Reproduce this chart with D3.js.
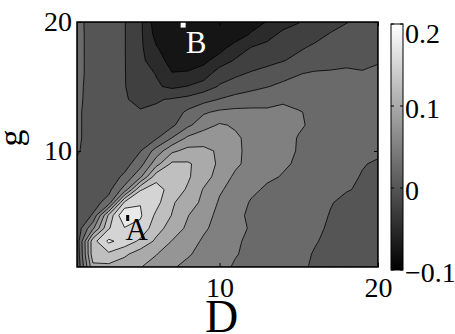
<!DOCTYPE html>
<html>
<head>
<meta charset="utf-8">
<script src="https://cdn.jsdelivr.net/npm/d3@7"></script>
<style>
  body { margin: 0; background: #fff; }
  svg { display: block; font-family: "Liberation Serif", "Times New Roman", serif; }
</style>
</head>
<body>
<script>

// grid positions of the surface
var dValues = [1, 2, 3, 4, 5, 6, 7, 8, 9, 10, 11, 12, 13, 14, 15, 16, 17, 18, 19, 20];
var gValues = [1, 2, 3, 4, 5, 6, 7, 8, 9, 10, 11, 12, 13, 14, 15, 16, 17, 18, 19, 20];

// surface values, one row per g (first row is g = 1), one column per D
var surface = [
  [0.002, 0.118, 0.118, 0.110, 0.101, 0.090, 0.077, 0.070, 0.063, 0.055, 0.048, 0.043, 0.038, 0.033, 0.028, 0.023, 0.019, 0.016, 0.013, 0.011],
  [0.005, 0.140, 0.145, 0.130, 0.112, 0.101, 0.087, 0.077, 0.069, 0.061, 0.051, 0.046, 0.041, 0.036, 0.029, 0.024, 0.021, 0.018, 0.015, 0.013],
  [0.008, 0.140, 0.180, 0.165, 0.145, 0.120, 0.099, 0.084, 0.072, 0.064, 0.052, 0.047, 0.043, 0.038, 0.033, 0.026, 0.022, 0.019, 0.017, 0.015],
  [0.008, 0.070, 0.148, 0.173, 0.168, 0.135, 0.114, 0.095, 0.078, 0.068, 0.056, 0.048, 0.043, 0.038, 0.034, 0.028, 0.023, 0.021, 0.018, 0.016],
  [0.008, 0.027, 0.130, 0.200, 0.178, 0.145, 0.124, 0.101, 0.082, 0.070, 0.054, 0.047, 0.042, 0.038, 0.034, 0.031, 0.024, 0.021, 0.019, 0.017],
  [0.008, 0.015, 0.035, 0.155, 0.174, 0.158, 0.128, 0.112, 0.094, 0.072, 0.060, 0.048, 0.044, 0.041, 0.037, 0.034, 0.026, 0.021, 0.019, 0.018],
  [0.010, 0.012, 0.018, 0.060, 0.148, 0.162, 0.138, 0.122, 0.098, 0.078, 0.066, 0.054, 0.047, 0.043, 0.040, 0.036, 0.032, 0.026, 0.023, 0.021],
  [0.015, 0.010, 0.012, 0.030, 0.070, 0.140, 0.142, 0.128, 0.110, 0.090, 0.070, 0.060, 0.053, 0.049, 0.045, 0.040, 0.035, 0.029, 0.024, 0.023],
  [0.020, 0.010, 0.008, 0.015, 0.040, 0.090, 0.130, 0.128, 0.115, 0.095, 0.080, 0.066, 0.057, 0.052, 0.048, 0.043, 0.038, 0.030, 0.026, 0.023],
  [0.028, 0.012, 0.006, 0.008, 0.024, 0.060, 0.095, 0.108, 0.105, 0.097, 0.080, 0.068, 0.060, 0.054, 0.049, 0.045, 0.040, 0.036, 0.031, 0.028],
  [0.030, 0.013, 0.006, 0.004, 0.008, 0.022, 0.051, 0.080, 0.090, 0.092, 0.079, 0.068, 0.061, 0.056, 0.049, 0.046, 0.042, 0.038, 0.034, 0.031],
  [0.030, 0.013, 0.006, 0.003, 0.004, 0.012, 0.020, 0.045, 0.065, 0.078, 0.072, 0.064, 0.058, 0.055, 0.052, 0.047, 0.043, 0.039, 0.036, 0.033],
  [0.030, 0.013, 0.006, 0.002, 0.001, 0.004, 0.012, 0.030, 0.047, 0.055, 0.057, 0.056, 0.054, 0.055, 0.051, 0.047, 0.045, 0.042, 0.039, 0.037],
  [0.032, 0.013, 0.006, 0.001, -0.003, -0.002, 0.002, 0.008, 0.016, 0.026, 0.033, 0.038, 0.042, 0.047, 0.045, 0.042, 0.040, 0.039, 0.037, 0.036],
  [0.033, 0.013, 0.007, 0.001, -0.012, -0.022, -0.030, -0.024, -0.012, 0.002, 0.012, 0.018, 0.024, 0.030, 0.032, 0.033, 0.034, 0.034, 0.034, 0.034],
  [0.035, 0.013, 0.008, 0.001, -0.015, -0.026, -0.049, -0.047, -0.040, -0.010, -0.005, 0.003, 0.010, 0.017, 0.024, 0.028, 0.028, 0.029, 0.026, 0.030],
  [0.035, 0.013, 0.008, 0.001, -0.018, -0.040, -0.058, -0.062, -0.055, -0.040, -0.022, -0.015, -0.008, -0.001, 0.006, 0.012, 0.017, 0.020, 0.022, 0.023],
  [0.035, 0.013, 0.008, 0.001, -0.020, -0.048, -0.064, -0.070, -0.068, -0.058, -0.040, -0.024, -0.016, -0.010, -0.003, 0.004, 0.010, 0.015, 0.019, 0.022],
  [0.035, 0.013, 0.008, 0.001, -0.020, -0.058, -0.068, -0.072, -0.072, -0.068, -0.062, -0.047, -0.035, -0.017, -0.014, -0.007, 0.002, 0.008, 0.012, 0.015],
  [0.035, 0.012, 0.008, 0.001, -0.020, -0.065, -0.065, -0.070, -0.072, -0.070, -0.066, -0.060, -0.049, -0.038, -0.026, -0.017, -0.009, -0.001, 0.004, 0.008]
];

// contour levels, the region under the first level gets the base colour
var baseLevel = -0.075;
var levels = [-0.05, -0.025, 0, 0.025, 0.05, 0.075, 0.1, 0.125, 0.15, 0.175];

// tick labels
var xTicks = [10, 20];
var yTicks = [10, 20];
var colorTicks = [-0.1, 0, 0.1, 0.2];
var colorDomain = [-0.1, 0.2];

// the two marked points
var markers = [
  {name: "A", D: 4.2, g: 4.8},
  {name: "B", D: 7.7, g: 19.8}
];

// drawing styles of the markers
var markerStyle = {
  A: {fill: "#000", w: 3, h: 6, dx: 9, dy: 22},
  B: {fill: "#fff", w: 5, h: 6, dx: 13, dy: 28}
};

var svgWidth = 455, svgHeight = 334;
var plot = {left: 77, right: 378, top: 22, bottom: 267};
var bar = {left: 391, width: 12, top: 24, bottom: 270};

var svg = d3.select("body")
            .append("svg")
            .attr("width", svgWidth)
            .attr("height", svgHeight);

var xScale = d3.scaleLinear()
               .domain([dValues[0], dValues[dValues.length - 1]])
               .range([plot.left, plot.right]);

var yScale = d3.scaleLinear()
               .domain([gValues[0], gValues[gValues.length - 1]])
               .range([plot.bottom, plot.top]);

var color = d3.scaleLinear()
              .domain(colorDomain)
              .range(["#000000", "#ffffff"]);

// flatten the grid for d3.contours
var n = dValues.length, m = gValues.length;
var flat = [];
surface.forEach(function(row){
  row.forEach(function(v){ flat.push(v); });
});

var bands = d3.contours()
              .size([n, m])
              .thresholds(levels)(flat);

// contour coordinates are cell based, move them on to the grid points
function gridValue(c, values){
  var i = Math.max(0, Math.min(values.length - 1, c - 0.5));
  var i0 = Math.floor(i), i1 = Math.min(values.length - 1, i0 + 1);
  return values[i0] + (values[i1] - values[i0]) * (i - i0);
}

var toPlot = d3.geoTransform({
  point: function(px, py){
    this.stream.point(xScale(gridValue(px, dValues)), yScale(gridValue(py, gValues)));
  }
});
var path = d3.geoPath(toPlot);

svg.append("clipPath")
   .attr("id", "plotclip")
   .append("rect")
   .attr("x", plot.left)
   .attr("y", plot.top)
   .attr("width", plot.right - plot.left)
   .attr("height", plot.bottom - plot.top);

var field = svg.append("g").attr("clip-path", "url(#plotclip)");

// lowest band
field.append("rect")
     .attr("x", plot.left)
     .attr("y", plot.top)
     .attr("width", plot.right - plot.left)
     .attr("height", plot.bottom - plot.top)
     .style("fill", color(baseLevel));

// filled bands with their contour lines
field.selectAll("path.band")
     .data(bands)
     .enter()
     .append("path")
     .attr("class", "band")
     .attr("d", path)
     .style("fill", function(d){ return color(d.value); })
     .style("stroke", "#000")
     .style("stroke-width", 0.8)
     .style("stroke-linejoin", "round");

// markers and their letters
markers.forEach(function(mk){
  var st = markerStyle[mk.name];
  var cx = xScale(mk.D), cy = yScale(mk.g);
  svg.append("rect")
     .attr("x", cx - st.w / 2)
     .attr("y", cy - st.h / 2)
     .attr("width", st.w)
     .attr("height", st.h)
     .style("fill", st.fill);
  svg.append("text")
     .attr("x", cx + st.dx)
     .attr("y", cy + st.dy)
     .style("text-anchor", "middle")
     .style("font-size", "31px")
     .style("fill", st.fill)
     .text(mk.name);
});

// axes with inward ticks
function styleAxis(g){
  g.attr("font-family", null).attr("font-size", null);
  g.select(".domain").remove();
  g.selectAll("line").style("stroke", "#000");
  g.selectAll("text").style("font-size", "28px").style("fill", "#000");
}

svg.append("g")
   .attr("transform", "translate(0," + plot.bottom + ")")
   .call(d3.axisBottom(xScale).tickValues(xTicks).tickSizeInner(-4).tickSizeOuter(0).tickPadding(10))
   .call(styleAxis);

svg.append("g")
   .attr("transform", "translate(0," + plot.top + ")")
   .call(d3.axisTop(xScale).tickValues(xTicks).tickSizeInner(-4).tickSizeOuter(0).tickFormat(""))
   .call(styleAxis);

svg.append("g")
   .attr("transform", "translate(" + plot.left + ",0)")
   .call(d3.axisLeft(yScale).tickValues(yTicks).tickSizeInner(-4).tickSizeOuter(0).tickPadding(5))
   .call(styleAxis);

svg.append("g")
   .attr("transform", "translate(" + plot.right + ",0)")
   .call(d3.axisRight(yScale).tickValues(yTicks).tickSizeInner(-4).tickSizeOuter(0).tickFormat(""))
   .call(styleAxis);

// box round the plot
svg.append("rect")
   .attr("x", plot.left)
   .attr("y", plot.top)
   .attr("width", plot.right - plot.left)
   .attr("height", plot.bottom - plot.top)
   .style("fill", "none")
   .style("stroke", "#000")
   .style("stroke-width", 1.5);

// axis titles
svg.append("text")
   .attr("x", (plot.left + plot.right) / 2 - 6)
   .attr("y", svgHeight - 2)
   .style("text-anchor", "middle")
   .style("font-size", "46px")
   .text("D");

svg.append("text")
   .attr("transform", "translate(22,138) rotate(-90)")
   .style("text-anchor", "middle")
   .style("font-size", "34px")
   .text("g");

// colour bar
var cScale = d3.scaleLinear()
               .domain(colorDomain)
               .range([bar.bottom, bar.top]);

var grad = svg.append("defs")
              .append("linearGradient")
              .attr("id", "bargrad")
              .attr("x1", 0).attr("y1", 1)
              .attr("x2", 0).attr("y2", 0);
grad.append("stop").attr("offset", 0).attr("stop-color", color(colorDomain[0]));
grad.append("stop").attr("offset", 1).attr("stop-color", color(colorDomain[1]));

svg.append("rect")
   .attr("x", bar.left)
   .attr("y", cScale(colorDomain[1]))
   .attr("width", bar.width)
   .attr("height", cScale(colorDomain[0]) - cScale(colorDomain[1]))
   .style("fill", "url(#bargrad)")
   .style("stroke", "#000")
   .style("stroke-width", 1);

colorTicks.forEach(function(t){
  var ty = cScale(t);
  svg.append("line")
     .attr("x1", bar.left).attr("x2", bar.left + 3)
     .attr("y1", ty).attr("y2", ty)
     .style("stroke", "#000");
  svg.append("line")
     .attr("x1", bar.left + bar.width - 3).attr("x2", bar.left + bar.width)
     .attr("y1", ty).attr("y2", ty)
     .style("stroke", "#000");
  svg.append("text")
     .attr("x", bar.left + bar.width + 2)
     .attr("y", Math.max(ty + 2, 33))
     .attr("dy", "0.35em")
     .style("font-size", "28px")
     .text(d3.format(".1f")(t).replace("-", "\u2212").replace(/^0\.0$/, "0").replace(/^\u22120\.0$/, "0"));
});

</script>
</body>
</html>
